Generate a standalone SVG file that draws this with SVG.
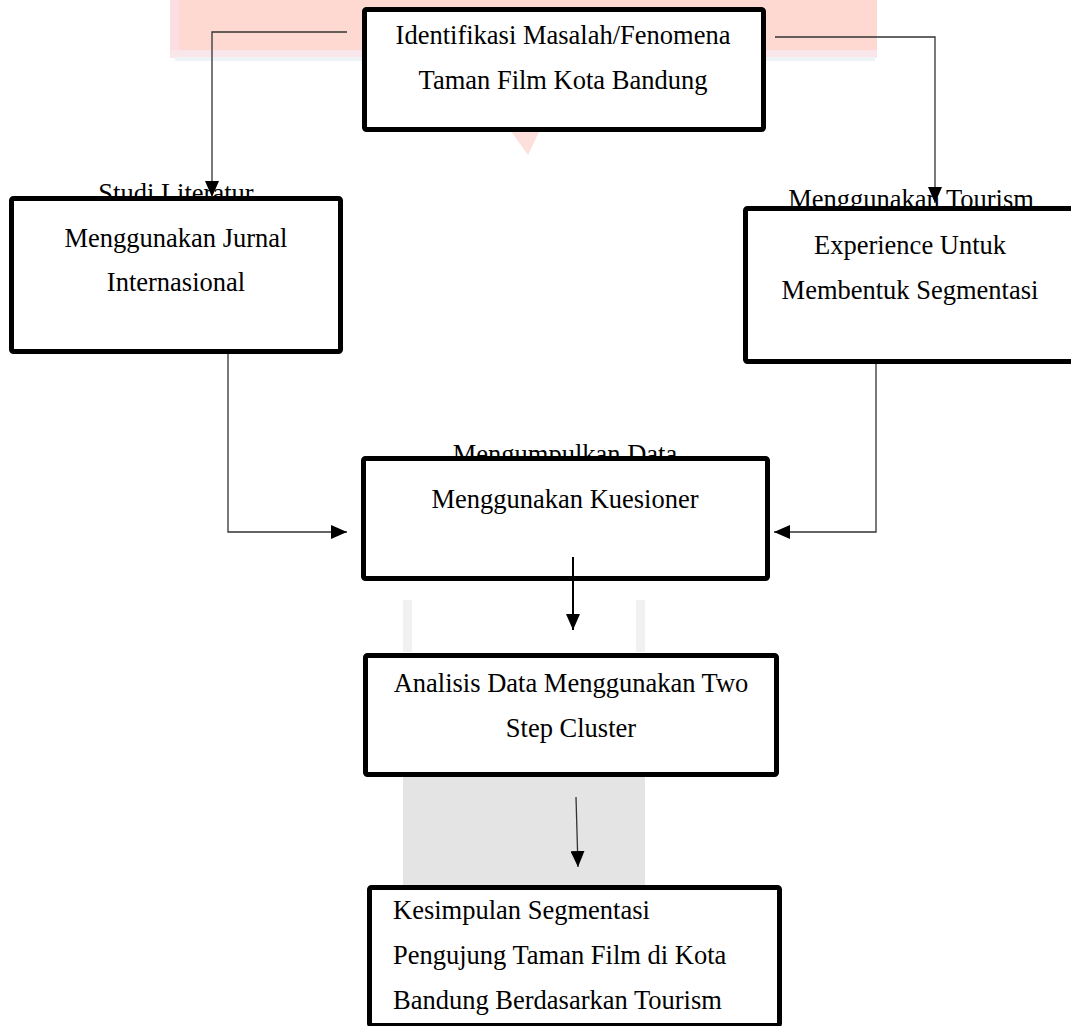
<svg xmlns="http://www.w3.org/2000/svg" width="1071" height="1026" viewBox="0 0 1071 1026">
  <style>
    .box { fill: #ffffff; stroke: #000000; stroke-width: 5; stroke-linejoin: round; }
    .t { font-family: "Liberation Serif", "Times New Roman", serif; font-size: 26.5px; fill: #000000; }
    .c { text-anchor: middle; }
    .conn { fill: none; stroke: #333333; stroke-width: 1.3; }
    .conn2 { fill: none; stroke: #000000; stroke-width: 2; }
  </style>
  <defs>
    <marker id="arrow" markerUnits="userSpaceOnUse" markerWidth="16" markerHeight="14" refX="16" refY="7" orient="auto">
      <path d="M0,0 L16,7 L0,14 Z" fill="#000000"/>
    </marker>
  </defs>
  <rect width="1071" height="1026" fill="#ffffff"/>
  <g id="watermark">
    <rect x="170" y="0" width="707" height="52" fill="#fdd9d2"/>
    <rect x="170" y="0" width="9" height="52" fill="#fbdde2"/>
    <rect x="170" y="50" width="707" height="8" fill="#f9e6ea"/>
    <rect x="175" y="57" width="700" height="4" fill="#eef4f6"/>
    <polygon points="510,130 540,130 528,155" fill="#fde0dc"/>
    <rect x="403" y="600" width="9" height="52" fill="#f1f1f1"/>
    <rect x="636" y="600" width="9" height="52" fill="#f1f1f1"/>
    <rect x="403" y="776" width="242" height="110" fill="#e4e4e4"/>
  </g>
  <g id="node-identifikasi">
    <rect class="box" x="364.5" y="9.5" width="399" height="120" rx="2"/>
    <text class="t c" x="563" y="44">Identifikasi Masalah/Fenomena</text>
    <text class="t c" x="563" y="89">Taman Film Kota Bandung</text>
  </g>
  <g id="node-studi">
    <text class="t c" x="176" y="202">Studi Literatur</text>
    <rect class="box" x="11.5" y="198.5" width="329" height="153" rx="2"/>
    <text class="t c" x="176" y="247">Menggunakan Jurnal</text>
    <text class="t c" x="176" y="291">Internasional</text>
  </g>
  <g id="node-tourism">
    <text class="t c" x="911" y="208">Menggunakan Tourism</text>
    <rect class="box" x="745.5" y="208.5" width="345" height="153" rx="2"/>
    <text class="t c" x="910" y="254">Experience Untuk</text>
    <text class="t c" x="910" y="299">Membentuk Segmentasi</text>
  </g>
  <g id="node-kuesioner">
    <text class="t c" x="565" y="463">Mengumpulkan Data</text>
    <rect class="box" x="363.5" y="458.5" width="404" height="120" rx="2"/>
    <text class="t c" x="565" y="508">Menggunakan Kuesioner</text>
  </g>
  <g id="node-analisis">
    <rect class="box" x="365.5" y="655.5" width="411" height="119" rx="2"/>
    <text class="t c" x="571" y="692">Analisis Data Menggunakan Two</text>
    <text class="t c" x="571" y="737">Step Cluster</text>
  </g>
  <g id="node-kesimpulan">
    <rect class="box" x="369.5" y="887.5" width="410" height="138" rx="2"/>
    <text class="t" x="393" y="919">Kesimpulan Segmentasi</text>
    <text class="t" x="393" y="964">Pengujung Taman Film di Kota</text>
    <text class="t" x="393" y="1009">Bandung Berdasarkan Tourism</text>
  </g>
  <g id="connectors">
    <polyline class="conn" points="347,32 212,32 212,197" marker-end="url(#arrow)"/>
    <polyline class="conn" points="775,37 935,37 935,203" marker-end="url(#arrow)"/>
    <polyline class="conn" points="228,354 228,532 347,532" marker-end="url(#arrow)"/>
    <polyline class="conn" points="876,364 876,532 774,532" marker-end="url(#arrow)"/>
    <line class="conn2" x1="573" y1="557" x2="573" y2="630" marker-end="url(#arrow)"/>
    <line class="conn" x1="576" y1="797" x2="578" y2="867" marker-end="url(#arrow)"/>
  </g>
</svg>
